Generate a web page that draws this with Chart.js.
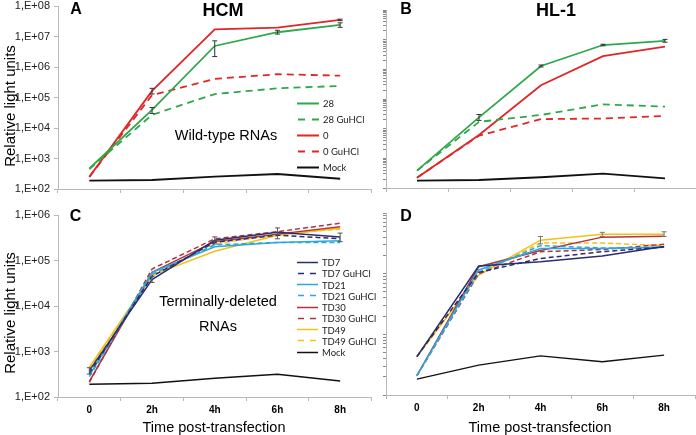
<!DOCTYPE html>
<html><head><meta charset="utf-8">
<script src="https://cdn.jsdelivr.net/npm/chart.js@4.4.1/dist/chart.umd.min.js"></script>
<style>
html,body{margin:0;padding:0;background:#fff;}
#wrap{position:relative;width:696px;height:435px;overflow:hidden;background:#fff;font-family:"Liberation Sans",Arial,sans-serif;}
canvas{position:absolute;left:0;top:-20px;pointer-events:none;}
.t{position:absolute;white-space:nowrap;transform:translate(-50%,-50%);color:#000;line-height:1;}
.rot{transform:translate(-50%,-50%) rotate(-90deg);}
.legend{position:absolute;left:0;top:0;font-family:Lato,"Open Sans",sans-serif;font-size:9.5px;color:#222;}
.legend .row{position:absolute;display:flex;align-items:center;white-space:nowrap;transform:translateY(-50%);}
.legend svg{margin-right:4px;}
</style></head><body><div id="wrap">
<canvas id="cA" width="696" height="475" style="width:696px;height:475px"></canvas>
<canvas id="cB" width="696" height="475" style="width:696px;height:475px"></canvas>
<canvas id="cC" width="696" height="475" style="width:696px;height:475px"></canvas>
<canvas id="cD" width="696" height="475" style="width:696px;height:475px"></canvas>
<div class="t" style="left:76px;top:9px;font-weight:bold;font-size:16px">A</div>
<div class="t" style="left:223px;top:9.5px;font-weight:bold;font-size:18px">HCM</div>
<div class="t" style="left:406px;top:8.5px;font-weight:bold;font-size:16px">B</div>
<div class="t" style="left:556px;top:9.5px;font-weight:bold;font-size:18px">HL-1</div>
<div class="t" style="left:75.5px;top:216px;font-weight:bold;font-size:16px">C</div>
<div class="t" style="left:406px;top:216px;font-weight:bold;font-size:16px">D</div>
<div class="t" style="left:226px;top:135px;font-size:14.5px">Wild-type RNAs</div>
<div class="t" style="left:218px;top:314px;font-size:14.5px;line-height:25px;text-align:center">Terminally-deleted<br>RNAs</div>
<div class="t rot" style="left:9px;top:106px;font-size:15px">Relative light units</div>
<div class="t rot" style="left:9px;top:313px;font-size:15px">Relative light units</div>
<div class="t" style="left:214px;top:427px;font-size:14.5px">Time post-transfection</div>
<div class="t" style="left:540px;top:427px;font-size:14.5px">Time post-transfection</div>
<div id="legA" class="legend"></div>
<div id="legC" class="legend"></div>
</div>
<script>
// ---------- data ----------
const timeLabels = ['0', '2h', '4h', '6h', '8h'];

// Panel A: HCM, wild-type RNAs
const hcm28   = [470, 39000, 4.9e6, 1.38e7, 2.4e7];
const hcm28Gu = [450, 27000, 1.3e5, 2.0e5, 2.4e5];
const hcm0    = [250, 1.65e5, 1.7e7, 1.95e7, 3.5e7];
const hcm0Gu  = [250, 1.2e5, 4.1e5, 5.8e5, 5.2e5];
const hcmMock = [187, 197, 253, 310, 217];
const hcm28ErrLo = [null, 30000, 2.2e6, 1.2e7, 2.0e7];
const hcm28ErrHi = [null, 47000, 7.2e6, 1.6e7, 2.8e7];
const hcm0ErrLo  = [null, 1.3e5, null, null, 3.3e7];
const hcm0ErrHi  = [null, 2.0e5, null, null, 3.7e7];

// Panel B: HL-1, wild-type RNAs
const hl28   = [385, 24000, 1.3e6, 6.6e6, 9.1e6];
const hl28Gu = [385, 17000, 29000, 66000, 55000];
const hl0    = [222, 6100, 2.9e5, 2.8e6, 5.8e6];
const hl0Gu  = [222, 5800, 21000, 22000, 27000];
const hlMock = [176, 186, 230, 303, 212];
const hl28ErrLo = [null, 19000, 1.2e6, 6.2e6, 8.2e6];
const hl28ErrHi = [null, 30000, 1.4e6, 7.0e6, 1.02e7];

// Panel C: HCM, terminally-deleted RNAs
const td7    = [380, 38000, 2.8e5, 4.2e5, 3.3e5];
const td7Gu  = [330, 45000, 2.5e5, 3.6e5, 3.0e5];
const td21   = [300, 55000, 2.0e5, 2.5e5, 2.7e5];
const td21Gu = [280, 50000, 2.2e5, 2.5e5, 2.5e5];
const td30   = [220, 55000, 2.6e5, 3.8e5, 5.5e5];
const td30Gu = [210, 65000, 3.0e5, 4.3e5, 6.6e5];
const td49   = [450, 48000, 1.6e5, 3.6e5, 5.1e5];
const td49Gu = [420, 45000, 2.3e5, 3.8e5, 4.9e5];
const cMock  = [190, 200, 258, 315, 225];
const td7ErrLo = [320, 33000, 2.3e5, 3.0e5, 2.6e5];
const td7ErrHi = [440, 44000, 3.3e5, 5.2e5, 4.0e5];

// Panel D: HL-1, terminally-deleted RNAs
const dTd7    = [430, 13400, 15700, 19500, 28000];
const dTd7Gu  = [430, 10500, 17800, 23000, 27500];
const dTd21   = [208, 11500, 26000, 26000, 27500];
const dTd21Gu = [208, 10500, 29000, 26500, 27000];
const dTd30   = [208, 13000, 24000, 40000, 41500];
const dTd30Gu = [208, 10000, 23000, 25000, 30500];
const dTd49   = [430, 9500, 35600, 44700, 44700];
const dTd49Gu = [430, 10000, 32000, 32000, 29000];
const dMock   = [183, 312, 440, 353, 455];
const dTd49ErrLo = [null, null, 31000, 41000, 41000];
const dTd49ErrHi = [null, null, 41000, 48000, 49000];

// ---------- styles ----------
const GREEN = '#2fa84c', RED = '#e02626', BLACK = '#111111';
const NAVY = '#2a2d6e', SKY = '#2aa8df', WINE = '#b3333d', GOLD = '#f5c012';
const AXIS = '#b8b8b8';

function ds(label, data, color, dashed, width, extra) {
  return Object.assign({
    label, data, borderColor: color, backgroundColor: color,
    borderWidth: width, borderDash: dashed ? dashed : [], pointRadius: 0,
    tension: 0, fill: false
  }, extra || {});
}

const errorBars = {
  id: 'errorBars',
  afterDatasetsDraw(chart) {
    const ctx = chart.ctx, ys = chart.scales.y;
    chart.data.datasets.forEach((d, i) => {
      if (!d.errLo) return;
      const meta = chart.getDatasetMeta(i);
      ctx.save();
      ctx.strokeStyle = d.errColor || '#444';
      ctx.lineWidth = 1;
      d.errLo.forEach((lo, j) => {
        const hi = d.errHi[j];
        if (lo == null || hi == null) return;
        const x = meta.data[j].x;
        const y1 = ys.getPixelForValue(lo), y2 = ys.getPixelForValue(hi);
        ctx.beginPath();
        ctx.moveTo(x, y1); ctx.lineTo(x, y2);
        ctx.moveTo(x - 2.5, y1); ctx.lineTo(x + 2.5, y1);
        ctx.moveTo(x - 2.5, y2); ctx.lineTo(x + 2.5, y2);
        ctx.stroke();
      });
      ctx.restore();
    });
  }
};

function logTicks(minExp, maxExp, withMinor) {
  const out = [];
  for (let e = minExp; e <= maxExp; e++) {
    if (!withMinor || e === maxExp) { out.push(Math.pow(10, e)); continue; }
    for (let s = 1; s <= 9; s++) out.push(s * Math.pow(10, e));
  }
  return out;
}

const CANVAS_TOP = -20, CANVAS_H = 475, W = 696;

function makeChart(id, datasets, area, opt) {
  const yW = opt.yW, xH = opt.xH;
  const padding = {
    left: area.l - yW,
    top: area.t - CANVAS_TOP,
    right: W - area.r,
    bottom: CANVAS_TOP + CANVAS_H - area.b - xH
  };
  const tickVals = logTicks(opt.minExp, opt.maxExp, opt.minor);
  return new Chart(document.getElementById(id), {
    type: 'line',
    data: { labels: timeLabels, datasets },
    plugins: [errorBars],
    options: {
      responsive: false, animation: false, devicePixelRatio: 1,
      layout: { padding },
      plugins: { legend: { display: false }, tooltip: { enabled: false }, title: { display: false } },
      scales: {
        x: {
          type: 'category', offset: true,
          grid: { offset: true, drawOnChartArea: false, drawTicks: true, tickLength: 4, color: AXIS },
          border: { color: AXIS, width: 1 },
          ticks: {
            display: opt.xLabels, padding: 3, color: '#000',
            font: { family: '"Liberation Sans", Arial, sans-serif', size: 10, weight: 'bold' }
          },
          afterFit(s) { s.height = xH; }
        },
        y: {
          type: 'logarithmic',
          min: Math.pow(10, opt.minExp), max: Math.pow(10, opt.maxExp),
          grid: { drawOnChartArea: false, drawTicks: true, tickLength: opt.minor ? 3 : 4, color: opt.minor ? '#8a8a8a' : AXIS },
          border: { color: AXIS, width: 1 },
          ticks: {
            display: opt.yLabels, autoSkip: false, padding: 4, color: '#222',
            font: { family: '"Liberation Sans", Arial, sans-serif', size: 11 },
            callback: (v) => '1,E+' + String(Math.round(Math.log10(v))).padStart(2, '0')
          },
          afterBuildTicks(s) { s.ticks = tickVals.map(v => ({ value: v })); },
          afterFit(s) { s.width = yW; }
        }
      }
    }
  });
}

// ---------- Panel A ----------
const setA = [
  ds('28', hcm28, GREEN, null, 1.8, { errLo: hcm28ErrLo, errHi: hcm28ErrHi, errColor: '#333' }),
  ds('28 GuHCl', hcm28Gu, GREEN, [7, 5], 1.8),
  ds('0', hcm0, RED, null, 1.8, { errLo: hcm0ErrLo, errHi: hcm0ErrHi, errColor: '#333' }),
  ds('0 GuHCl', hcm0Gu, RED, [7, 5], 1.8),
  ds('Mock', hcmMock, BLACK, null, 1.8)
];
makeChart('cA', setA, { l: 58, r: 371.5, t: 6, b: 189 },
  { yW: 58, xH: 12, minExp: 2, maxExp: 8, minor: false, yLabels: true, xLabels: false });

// ---------- Panel B ----------
const setB = [
  ds('28', hl28, GREEN, null, 1.8, { errLo: hl28ErrLo, errHi: hl28ErrHi, errColor: '#333' }),
  ds('28 GuHCl', hl28Gu, GREEN, [7, 5], 1.8),
  ds('0', hl0, RED, null, 1.8),
  ds('0 GuHCl', hl0Gu, RED, [7, 5], 1.8),
  ds('Mock', hlMock, BLACK, null, 1.8)
];
makeChart('cB', setB, { l: 386, r: 696, t: 10, b: 188 },
  { yW: 8, xH: 12, minExp: 2, maxExp: 8, minor: true, yLabels: false, xLabels: false });

// ---------- Panel C ----------
const setC = [
  ds('TD7', td7, NAVY, null, 1.5, { errLo: td7ErrLo, errHi: td7ErrHi, errColor: '#555' }),
  ds('TD7 GuHCl', td7Gu, NAVY, [5, 3], 1.5),
  ds('TD21', td21, SKY, null, 1.5),
  ds('TD21 GuHCl', td21Gu, SKY, [5, 3], 1.5),
  ds('TD30', td30, WINE, null, 1.5),
  ds('TD30 GuHCl', td30Gu, WINE, [5, 3], 1.5),
  ds('TD49', td49, GOLD, null, 1.5),
  ds('TD49 GuHCl', td49Gu, GOLD, [5, 3], 1.5),
  ds('Mock', cMock, BLACK, null, 1.5)
];
makeChart('cC', setC, { l: 58, r: 371.5, t: 215, b: 397 },
  { yW: 58, xH: 24, minExp: 2, maxExp: 6, minor: false, yLabels: true, xLabels: true });

// ---------- Panel D ----------
const setD = [
  ds('TD7', dTd7, NAVY, null, 1.5),
  ds('TD7 GuHCl', dTd7Gu, NAVY, [5, 3], 1.5),
  ds('TD21', dTd21, SKY, null, 1.5),
  ds('TD21 GuHCl', dTd21Gu, SKY, [5, 3], 1.5),
  ds('TD30', dTd30, WINE, null, 1.5),
  ds('TD30 GuHCl', dTd30Gu, WINE, [5, 3], 1.5),
  ds('TD49', dTd49, GOLD, null, 1.5, { errLo: dTd49ErrLo, errHi: dTd49ErrHi, errColor: '#777' }),
  ds('TD49 GuHCl', dTd49Gu, GOLD, [5, 3], 1.5),
  ds('Mock', dMock, BLACK, null, 1.3)
];
makeChart('cD', setD, { l: 386, r: 695, t: 213, b: 395 },
  { yW: 8, xH: 24, minExp: 2, maxExp: 5, minor: true, yLabels: false, xLabels: true });

// ---------- HTML legends built from dataset definitions ----------
function buildLegend(elId, sets, x, y0, dy, sampleW, dash) {
  const el = document.getElementById(elId);
  sets.forEach((d, i) => {
    const row = document.createElement('div');
    row.className = 'row';
    row.style.left = x + 'px';
    row.style.top = (y0 + i * dy) + 'px';
    const dashed = d.borderDash && d.borderDash.length;
    row.innerHTML =
      '<svg width="' + sampleW + '" height="4"><line x1="0" y1="2" x2="' + sampleW + '" y2="2" stroke="' +
      d.borderColor + '" stroke-width="' + d.borderWidth + '"' +
      (dashed ? ' stroke-dasharray="' + dash + '" stroke-dashoffset="-1"' : '') + '/></svg>' +
      '<span>' + d.label + '</span>';
    el.appendChild(row);
  });
}
buildLegend('legA', setA, 297, 103, 16, 22, '7,7');
buildLegend('legC', setC, 297, 262, 11.25, 21, '6,6');
</script>
</body></html>
